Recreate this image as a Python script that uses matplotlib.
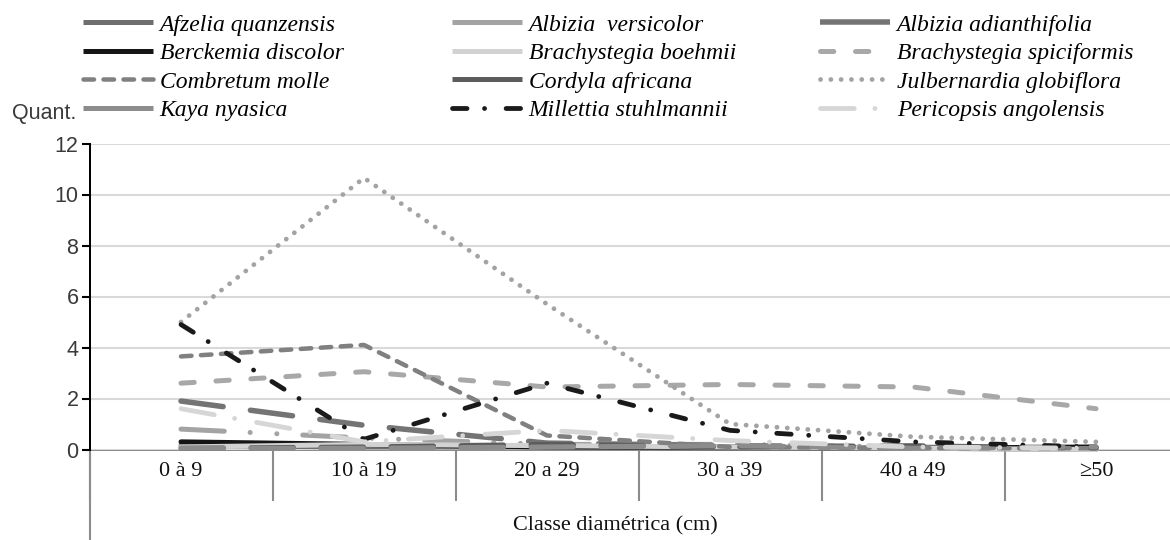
import numpy as np
import matplotlib.pyplot as plt
from matplotlib.lines import Line2D

# dashes given in pixels below, so don't let mpl scale them by line width
plt.rcParams['lines.scale_dashes'] = False

classes = ['0 à 9', '10 à 19', '20 a 29', '30 a 39', '40 a 49', '≥50']

species = ['Afzelia quanzensis', 'Albizia  versicolor', 'Albizia adianthifolia',
           'Berckemia discolor', 'Brachystegia boehmii', 'Brachystegia spiciformis',
           'Combretum molle', 'Cordyla africana', 'Julbernardia globiflora',
           'Kaya nyasica', 'Millettia stuhlmannii', 'Pericopsis angolensis']

afzelia = [0.15, 0.1, 0.1, 0.05, 0.05, 0.0]
albizia_vers = [0.8, 0.45, 0.2, 0.2, 0.1, 0.05]
albizia_adia = [1.9, 0.95, 0.25, 0.15, 0.1, 0.05]
berckemia = [0.3, 0.2, 0.1, 0.1, 0.05, 0.1]
brach_boehmii = [0.1, 0.2, 0.15, 0.1, 0.05, 0.0]
brach_spici = [2.6, 3.05, 2.45, 2.55, 2.45, 1.6]
combretum = [3.65, 4.1, 0.55, 0.1, 0.05, 0.05]
cordyla = [0.05, 0.1, 0.2, 0.1, 0.15, 0.05]
julbernardia = [5.0, 10.65, 5.7, 1.0, 0.5, 0.3]
kaya = [0.05, 0.05, 0.1, 0.15, 0.05, 0.1]
millettia = [4.9, 0.4, 2.6, 0.75, 0.3, 0.1]
pericopsis = [1.6, 0.3, 0.75, 0.35, 0.1, 0.05]

values = [afzelia, albizia_vers, albizia_adia, berckemia, brach_boehmii, brach_spici,
          combretum, cordyla, julbernardia, kaya, millettia, pericopsis]

PX = 0.72  # px -> pt at dpi 100

# style per series: color, width (px), dash in plot (px), dash in legend (px)
LDASH = [42.5, 27.5]
styles = [
    ('#6e6e6e', 5.0, None, None),
    ('#a3a3a3', 5.0, [43.3, 25.9, 0.1, 26.6, 0.1, 25.9], None),
    ('#747474', 5.5, LDASH, None),
    ('#151515', 5.0, None, None),
    ('#d2d2d2', 5.0, None, None),
    ('#a8a8a8', 5.0, [13.3, 21.7], [13.3, 21.7]),
    ('#808080', 4.5, [10.5, 9.5], [10.5, 9.5]),
    ('#5c5c5c', 5.0, LDASH, None),
    ('#a3a3a3', 4.8, [0.1, 10.2], [0.1, 10.2]),
    ('#8c8c8c', 5.0, LDASH, None),
    ('#1a1a1a', 4.8, [14.5, 17.5, 0.1, 21.5], [14.5, 17.5, 0.1, 21.5]),
    ('#d6d6d6', 4.8, [33.8, 20.6, 0.1, 22.3], [33.8, 20.6, 0.1, 22.3]),
]


def make_ls(d):
    if d is None:
        return '-'
    return (0, tuple(v * PX for v in d))


W, H = 1170, 540
fig = plt.figure(figsize=(W / 100, H / 100), dpi=100)
ax = fig.add_axes([89.5 / W, 1 - 449.5 / H, 6 * 183 / W, 306 / H])

x = np.arange(len(classes))
handles = []
for name, vals, (col, lw, d_plot, d_leg) in zip(species, values, styles):
    ax.plot(x, vals, color=col, lw=lw * PX, linestyle=make_ls(d_plot),
            dash_capstyle='round', solid_capstyle='round', clip_on=False)
    handles.append(Line2D([], [], color=col, lw=lw * PX, linestyle=make_ls(d_leg),
                          dash_capstyle='round', solid_capstyle='butt'))

ax.set_xlim(-0.5, 5.5)
ax.set_ylim(0, 12)
ax.set_yticks(range(0, 13, 2))
ax.yaxis.grid(True, color='#d9d9d9', lw=1.5)
ax.set_axisbelow(True)

for s in ['top', 'right']:
    ax.spines[s].set_visible(False)
ax.spines['left'].set_color('black')
ax.spines['left'].set_linewidth(2 * PX)
ax.spines['bottom'].set_color('#8c8c8c')
ax.spines['bottom'].set_linewidth(2 * PX)
ax.spines['bottom'].set_zorder(0.5)

ax.tick_params(axis='y', direction='out', length=6, width=1.5, color='black',
               labelsize=15.5, labelcolor='#3a3a3a', pad=2)
for lab in ax.get_yticklabels():
    lab.set_fontfamily('Liberation Sans')

# category separators below the axis, labels in between
ax.set_xticks(np.arange(-0.5, 6, 1))
ax.set_xticks(x, minor=True)
ax.set_xticklabels([''] * 7)
ax.set_xticklabels(classes, minor=True, fontfamily='Liberation Serif', fontsize=16)
ax.tick_params(axis='x', which='major', direction='out', length=37, width=1.5,
               color='#8c8c8c')
ax.tick_params(axis='x', which='minor', length=0, pad=9, labelcolor='#111111')
ax.axvline(-0.5, ymin=-0.3, ymax=0, color='#8c8c8c', lw=1.5, clip_on=False)

fig.text(615 / W, 1 - 526 / H, 'Classe diamétrica (cm)', ha='center', va='center',
         fontfamily='Liberation Serif', fontsize=16, color='#111111')
fig.text(12 / W, 1 - 114 / H, 'Quant.', ha='left', va='center',
         fontfamily='Liberation Sans', fontsize=15.5, color='#3a3a3a')

# legend: three separate columns so they line up like the original
col_x = [83, 452, 820]
for j in range(3):
    idx = [j, j + 3, j + 6, j + 9]
    fig.legend([handles[i] for i in idx], [species[i] for i in idx],
               loc='upper left', bbox_to_anchor=(col_x[j] / W, 1 - 14 / H),
               frameon=False, borderpad=0, borderaxespad=0,
               handlelength=2.95, handletextpad=0.3, labelspacing=0.3,
               prop={'family': 'Liberation Serif', 'style': 'italic', 'size': 17})

fig.savefig('out.png', dpi=100)
